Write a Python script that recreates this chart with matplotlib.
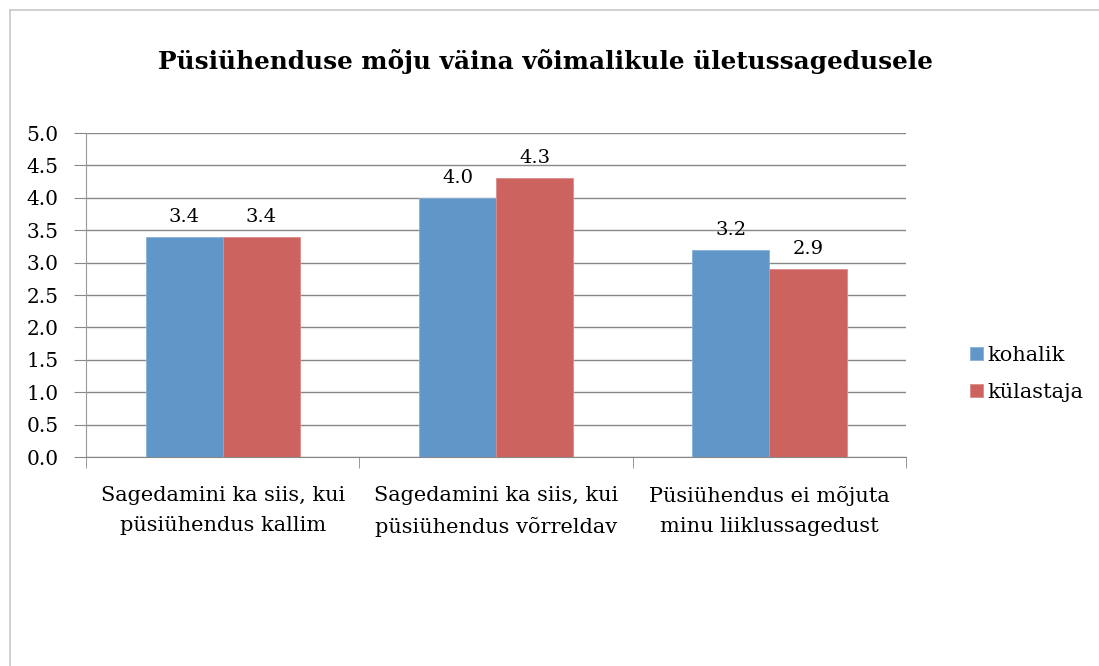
import matplotlib.pyplot as plt
from matplotlib.lines import Line2D
import numpy as np

# Andmed
categories = ['Sagedamini ka siis, kui\npüsiühendus kallim',
              'Sagedamini ka siis, kui\npüsiühendus võrreldav',
              'Püsiühendus ei mõjuta\nminu liiklussagedust']
kohalik = [3.4, 4.0, 3.2]
kulastaja = [3.4, 4.3, 2.9]
series_names = ['kohalik', 'külastaja']
yticks = [0.0, 0.5, 1.0, 1.5, 2.0, 2.5, 3.0, 3.5, 4.0, 4.5, 5.0]

plt.rcParams['font.family'] = ['DejaVu Serif']

fig = plt.figure(figsize=(10.99, 6.66), dpi=100)
ax = fig.add_axes([0.0783, 0.3138, 0.7462, 0.4865])

x = np.arange(len(categories))
w = 0.282
b1 = ax.bar(x - w / 2, kohalik, w, color='#6196C9', edgecolor='#8AB0D8', linewidth=0.6, label=series_names[0], zorder=3)
b2 = ax.bar(x + w / 2, kulastaja, w, color='#CD635E', edgecolor='#DC8C88', linewidth=0.6, label=series_names[1], zorder=3)

for bars, vals in ((b1, kohalik), (b2, kulastaja)):
    for r, v in zip(bars, vals):
        ax.text(r.get_x() + r.get_width() / 2, v + 0.17, f'{v:.1f}',
                ha='center', va='bottom', fontsize=14)

ax.set_xlim(-0.5, len(categories) - 0.5)
ax.set_ylim(0, 5)
ax.set_yticks(yticks)
ax.set_yticklabels([f'{t:.1f}' for t in yticks], fontsize=14.5)
ax.set_xticks(x)
ax.set_xticklabels(categories, fontsize=15, linespacing=1.75)
ax.set_xticks(np.arange(len(categories) + 1) - 0.5, minor=True)
ax.tick_params(axis='x', which='major', length=0, pad=21)
ax.tick_params(axis='x', which='minor', length=8, color='#888888')
ax.tick_params(axis='y', length=9, color='#888888', pad=11)

ax.grid(axis='y', color='#888888', linewidth=1, zorder=0)
for s in ('top', 'right'):
    ax.spines[s].set_visible(False)
ax.spines['left'].set_color('#999999')
ax.spines['bottom'].set_color('#888888')

fig.text(0.496, 0.908, 'Püsiühenduse mõju väina võimalikule ületussagedusele',
         ha='center', va='center', fontsize=17.8, fontweight='bold')

ax.legend(loc='center left', bbox_to_anchor=(1.078, 0.256), frameon=False,
          fontsize=15, handlelength=0.6, handleheight=0.6, handletextpad=0.25,
          labelspacing=0.85, borderpad=0, borderaxespad=0)

# raam
fig.add_artist(Line2D([0.0091, 0.0091], [0, 0.985], color='#C8C8C8', linewidth=1.2))
fig.add_artist(Line2D([0.0091, 1.0], [0.985, 0.985], color='#C8C8C8', linewidth=1.2))

fig.savefig('out.png', dpi=100)
